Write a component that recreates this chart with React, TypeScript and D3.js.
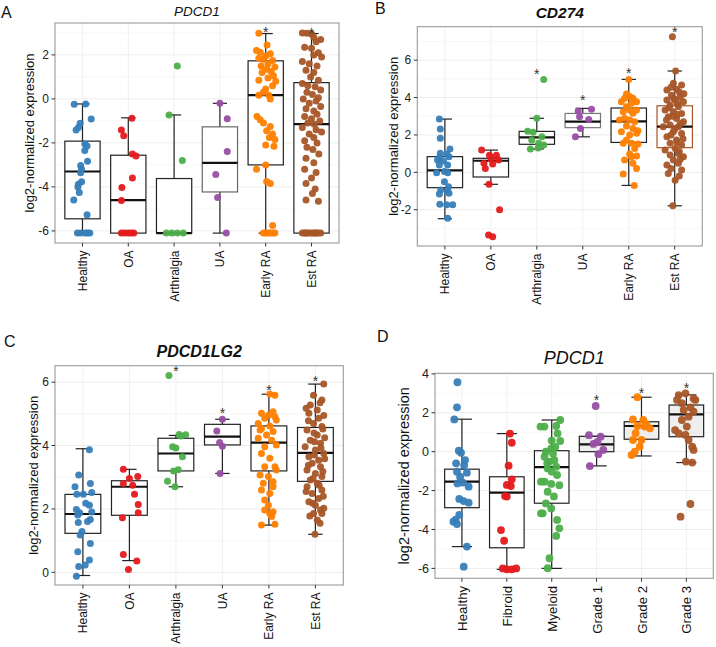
import React from 'react';
import * as d3 from 'd3';

type Pt = [number, number]; // [value, horizontal jitter in category steps]

const COLORS = ['#377EB8', '#E41A1C', '#4DAF4A', '#984EA3', '#FF7F00', '#A65628'];
const CATS_ABC = ['Healthy', 'OA', 'Arthralgia', 'UA', 'Early RA', 'Est RA'];
const CATS_D = ['Healthy', 'Fibroid', 'Myeloid', 'Grade 1', 'Grade 2', 'Grade 3'];
const Y_TITLE = 'log2-normalized expression';

// ---------------- Panel A : PDCD1 ----------------
const A_TICKS = [-6, -4, -2, 0, 2];
const A_Q1 = [-5.45, -6.1, -6.1, -4.23, -3.0, -6.1];
const A_MED = [-3.3, -4.6, -6.1, -2.91, 0.17, -1.15];
const A_Q3 = [-1.92, -2.56, -3.62, -1.27, 1.73, 0.74];
const A_LO = [-6.1, -6.1, -6.1, -6.1, -6.1, -6.1];
const A_HI = [-0.23, -0.86, -0.73, -0.2, 2.97, 2.97];
const A_STAR: (number | null)[] = [null, null, null, null, 3.17, 3.14];
const A_HEALTHY: Pt[] = [[-0.24, -0.18], [-0.23, 0.07], [-0.91, 0.19], [-1.11, -0.05], [-1.3, -0.09], [-1.41, -0.14], [-2.05, 0.05], [-2.14, 0.1], [-2.35, 0.05], [-2.83, 0.11], [-3.03, -0.04], [-3.2, -0.02], [-3.36, -0.04], [-3.77, -0.02], [-3.88, -0.09], [-4.0, -0.1], [-4.26, -0.07], [-4.59, -0.19], [-5.27, 0.1], [-6.1, -0.11], [-6.1, -0.04], [-6.1, 0.06], [-6.1, 0.11], [-6.1, 0.16]];
const A_OA: Pt[] = [[-0.88, 0.08], [-1.41, -0.15], [-1.67, -0.1], [-2.5, 0.09], [-2.6, 0.17], [-3.6, 0.09], [-4.03, -0.14], [-4.62, -0.15], [-6.1, -0.15], [-6.1, -0.08], [-6.1, 0.0], [-6.1, 0.06], [-6.1, 0.12]];
const A_ARTH: Pt[] = [[1.5, 0.07], [-0.73, -0.11], [-2.8, 0.18], [-6.1, -0.17], [-6.1, -0.05], [-6.1, 0.07], [-6.1, 0.2]];
const A_UA: Pt[] = [[-0.2, 0], [-0.9, 0.16], [-2.39, 0.16], [-3.44, -0.09], [-4.48, -0.05], [-6.1, 0.14]];
const A_EARLY: Pt[] = [[2.98, -0.15], [2.45, 0.03], [2.2, -0.2], [2.12, -0.12], [2.05, 0.1], [1.95, 0.0], [1.85, -0.15], [1.8, -0.05], [1.75, 0.15], [1.6, 0.05], [1.5, -0.1], [1.45, 0.2], [1.35, 0.02], [1.25, 0.12], [1.2, -0.08], [1.05, 0.17], [0.95, 0.05], [0.85, -0.15], [0.8, 0.22], [0.6, 0.15], [0.45, 0.0], [0.3, -0.05], [0.17, -0.15], [0.17, 0.07], [0.0, 0.1], [-0.8, -0.19], [-0.95, -0.12], [-1.1, -0.05], [-1.25, 0.1], [-1.45, 0.02], [-1.6, 0.15], [-1.75, 0.08], [-1.85, 0.2], [-2.1, 0.0], [-2.15, 0.18], [-3.0, 0.0], [-3.2, -0.2], [-3.75, 0.02], [-3.85, 0.1], [-5.75, 0.15], [-6.1, -0.05], [-6.1, 0.0], [-6.1, 0.05], [-6.1, 0.1], [-6.1, 0.15], [-6.1, 0.2]];
const A_EST: Pt[] = [[3.0, -0.2], [2.98, -0.1], [2.95, 0.0], [2.8, 0.05], [2.7, 0.2], [2.6, 0.1], [2.35, -0.15], [2.3, 0.0], [2.1, 0.15], [2.0, 0.05], [1.9, 0.22], [1.7, -0.2], [1.6, -0.05], [1.5, 0.12], [1.3, -0.12], [1.2, 0.05], [1.0, -0.02], [0.85, 0.15], [0.7, -0.2], [0.6, -0.08], [0.55, 0.08], [0.4, 0.2], [0.3, -0.1], [0.2, 0.02], [0.05, 0.15], [0.0, -0.18], [-0.1, 0.1], [-0.2, -0.05], [-0.35, 0.2], [-0.45, -0.12], [-0.55, 0.05], [-0.7, 0.12], [-0.8, -0.15], [-0.9, 0.0], [-1.0, 0.18], [-1.1, -0.08], [-1.15, 0.06], [-1.3, -0.2], [-1.4, 0.1], [-1.5, 0.22], [-1.6, -0.05], [-1.75, 0.05], [-1.9, -0.15], [-2.0, 0.12], [-2.2, -0.1], [-2.3, 0.03], [-2.5, 0.16], [-2.7, -0.12], [-2.9, 0.05], [-3.2, -0.15], [-3.35, 0.1], [-3.6, 0.0], [-3.85, -0.12], [-4.1, 0.08], [-4.3, 0.02], [-4.6, -0.12], [-4.65, 0.15], [-6.1, -0.2], [-6.1, -0.15], [-6.1, -0.1], [-6.1, -0.05], [-6.1, 0.0], [-6.1, 0.05], [-6.1, 0.1], [-6.1, 0.15], [-6.1, 0.2], [-6.1, -0.12], [-6.1, 0.08]];

// ---------------- Panel B : CD274 ----------------
const B_TICKS = [-2, 0, 2, 4, 6];
const B_Q1 = [-0.82, -0.25, 1.5, 2.39, 1.6, 1.32];
const B_MED = [0.11, 0.62, 1.87, 2.71, 2.73, 2.44];
const B_Q3 = [0.84, 0.75, 2.19, 3.15, 3.44, 3.56];
const B_LO = [-2.48, -0.64, 1.25, 1.9, -0.7, -1.79];
const B_HI = [2.85, 1.19, 2.89, 3.42, 4.97, 5.42];
const B_STAR: (number | null)[] = [null, null, 5.43, 4.04, 5.47, 7.65];
const B_HEALTHY: Pt[] = [[2.85, -0.12], [2.32, -0.1], [1.82, -0.1], [1.25, 0.11], [1.02, -0.1], [0.98, 0.04], [0.78, -0.12], [0.84, 0.09], [0.61, -0.03], [0.66, -0.16], [0.39, 0.06], [0.39, -0.12], [-0.02, -0.18], [0.04, -0.01], [-0.02, 0.06], [-0.5, -0.01], [-0.77, 0.08], [-0.94, -0.09], [-1.03, 0.06], [-1.16, -0.12], [-1.12, 0.09], [-1.71, -0.11], [-1.73, 0.04], [-1.73, 0.17], [-2.46, 0.06]];
const B_OA: Pt[] = [[1.19, -0.2], [0.91, -0.03], [0.91, 0.12], [0.7, 0.01], [0.66, 0.17], [0.48, -0.15], [0.45, 0.04], [0.21, -0.12], [-0.64, -0.04], [-2.0, 0.19], [-3.35, -0.05], [-3.44, 0.04]];
const B_ARTH: Pt[] = [[4.97, 0.15], [2.89, 0], [2.2, -0.2], [2.15, -0.08], [1.91, 0.11], [1.73, -0.11], [1.55, 0.04], [1.46, 0.15], [1.25, -0.14], [1.3, 0.03]];
const B_UA: Pt[] = [[3.28, -0.1], [3.37, 0.19], [2.98, -0.07], [2.83, 0.13], [2.35, -0.05], [1.91, -0.16]];
const B_EARLY: Pt[] = [[4.97, 0], [4.19, -0.05], [4.05, 0.02], [3.96, -0.09], [3.96, 0.09], [3.78, -0.16], [3.69, 0.06], [3.78, 0.17], [3.51, -0.05], [3.33, 0.02], [3.24, -0.12], [3.16, 0.09], [3.33, 0.17], [2.89, -0.09], [2.8, -0.2], [2.8, 0.02], [2.71, 0.13], [2.48, -0.05], [2.35, 0.09], [2.23, 0.2], [2.17, -0.16], [2.0, 0.02], [2.09, 0.17], [1.73, -0.05], [1.55, 0.06], [1.55, -0.12], [1.52, 0.2], [1.28, 0.13], [0.98, 0.02], [0.84, 0.06], [0.87, 0.17], [0.66, -0.09], [0.48, 0.09], [0.21, 0.17], [-0.09, -0.12], [-0.7, 0.12]];
const B_EST: Pt[] = [[7.25, -0.05], [5.42, 0.02], [4.76, -0.03], [4.67, 0.15], [4.4, -0.17], [4.44, 0.04], [4.13, -0.07], [4.04, 0.12], [3.87, -0.17], [3.87, 0.01], [3.78, 0.19], [3.6, -0.1], [3.51, 0.08], [3.33, -0.21], [3.24, -0.03], [3.15, 0.15], [2.97, -0.14], [2.88, 0.04], [2.7, 0.19], [2.53, -0.1], [2.44, 0.08], [2.44, -0.25], [2.17, -0.03], [2.08, 0.15], [1.9, -0.17], [1.73, 0.04], [1.55, -0.1], [1.46, 0.15], [1.28, 0.01], [1.19, -0.21], [1.01, 0.08], [0.93, -0.1], [0.84, 0.19], [0.66, -0.03], [0.39, -0.17], [0.48, 0.08], [0.12, 0.15], [-0.06, -0.14], [-0.42, 0.01], [-1.79, -0.04], [4.55, -0.08], [4.3, 0.1], [4.2, 0.2], [3.95, -0.02], [3.7, 0.06], [3.45, -0.12], [3.1, 0.05], [3.0, -0.05], [2.8, -0.18], [2.6, 0.12], [2.3, 0.0], [2.0, -0.08], [1.8, 0.18], [1.6, 0.05], [1.1, 0.1], [0.7, 0.12], [0.2, -0.08], [-0.2, 0.1]];

// ---------------- Panel C : PDCD1LG2 ----------------
const C_TICKS = [0, 2, 4, 6];
const C_Q1 = [1.23, 1.8, 3.2, 4.02, 3.2, 2.87];
const C_MED = [1.84, 2.7, 3.75, 4.28, 4.09, 3.77];
const C_Q3 = [2.46, 2.89, 4.23, 4.67, 4.62, 4.57];
const C_LO = [-0.1, 0.37, 2.7, 3.12, 1.49, 1.2];
const C_HI = [3.9, 3.25, 4.32, 4.83, 5.62, 5.94];
const C_STAR: (number | null)[] = [null, null, 6.44, 5.12, 5.85, 6.12];
const C_HEALTHY: Pt[] = [[3.87, 0.14], [3.07, -0.09], [2.7, -0.17], [2.8, 0.16], [2.52, 0.19], [2.46, -0.13], [2.46, 0.01], [2.18, 0.06], [2.12, 0.14], [1.98, -0.14], [1.88, -0.07], [1.81, -0.11], [1.9, 0.19], [1.67, 0.16], [1.6, 0.1], [1.57, -0.1], [1.29, -0.02], [1.18, -0.06], [0.91, 0.16], [0.65, -0.11], [0.39, 0.14], [0.23, 0.05], [0.18, -0.09], [-0.12, -0.14]];
const C_OA: Pt[] = [[3.25, -0.13], [3.02, 0.18], [2.96, 0], [2.8, -0.13], [2.75, 0.07], [2.46, 0.11], [2.14, 0.19], [1.88, 0.19], [1.72, -0.15], [0.56, -0.13], [0.36, 0.16], [0.09, -0.02]];
const C_ARTH: Pt[] = [[6.21, -0.15], [4.35, 0.07], [4.34, 0.21], [4.3, 0.11], [3.96, -0.07], [3.92, 0.0], [3.65, 0.14], [3.24, 0.05], [3.2, -0.05], [2.87, -0.18], [2.7, -0.02]];
const C_UA: Pt[] = [[4.83, 0], [4.46, -0.12], [4.1, -0.06], [3.98, 0.0], [3.12, -0.05]];
const C_EARLY: Pt[] = [[5.63, 0.02], [5.59, 0.13], [5.02, -0.16], [5.07, 0.09], [4.96, -0.01], [4.86, -0.09], [4.7, -0.23], [4.81, 0.16], [4.62, 0.02], [4.54, -0.16], [4.44, 0.09], [4.33, -0.05], [4.23, -0.23], [4.17, 0.06], [4.02, 0.16], [3.96, -0.09], [3.75, -0.16], [3.6, 0.02], [3.33, 0.13], [3.33, -0.09], [3.23, 0.16], [3.07, -0.19], [3.02, -0.01], [2.86, 0.09], [2.81, -0.12], [2.6, -0.16], [2.49, 0.02], [2.7, 0.09], [2.28, -0.09], [2.12, -0.01], [1.97, -0.09], [1.86, 0.02], [1.76, 0.06], [1.49, -0.16], [1.52, 0.13], [1.91, 0.09], [4.49, -0.19], [4.91, 0.13]];
const C_EST: Pt[] = [[5.94, 0.18], [5.59, -0.04], [5.44, 0.14], [5.28, -0.11], [5.12, 0.04], [5.02, -0.14], [4.86, 0.07], [4.7, -0.04], [4.6, 0.14], [4.49, -0.18], [4.33, 0.04], [4.17, -0.11], [4.07, 0.11], [3.96, -0.22], [3.86, 0], [3.75, 0.18], [3.65, -0.14], [3.54, 0.07], [3.44, -0.07], [3.33, 0.11], [3.23, -0.18], [3.12, 0], [3.02, 0.14], [2.91, -0.11], [2.81, 0.04], [2.7, -0.18], [2.6, 0.14], [2.49, -0.07], [2.33, 0.07], [2.23, -0.14], [2.12, 0], [1.97, 0.11], [1.86, -0.04], [1.86, 0.14], [1.65, 0.04], [1.2, -0.01], [5.35, 0.1], [5.18, -0.2], [4.95, 0.18], [4.78, -0.15], [4.52, 0.16], [4.4, -0.03], [4.25, 0.2], [4.12, -0.02], [3.92, 0.12], [3.7, -0.02], [3.58, 0.2], [3.38, -0.15], [3.18, 0.16], [2.96, -0.05], [2.75, 0.08], [2.55, -0.2], [2.4, 0.17], [2.18, -0.06], [2.02, 0.18], [1.78, -0.12], [1.55, 0.1]];

// ---------------- Panel D : PDCD1 (tumour grades) ----------------
const D_TICKS = [-6, -4, -2, 0, 2, 4];
const D_Q1 = [-2.88, -4.94, -2.65, 0, 0.64, 0.77];
const D_MED = [-1.54, -2.11, -0.79, 0.38, 1.32, 1.92];
const D_Q3 = [-0.9, -1.29, 0.05, 0.79, 1.54, 2.4];
const D_LO = [-4.88, -6.05, -6.0, -0.73, -0.22, -0.56];
const D_HI = [1.67, 0.93, 1.63, 0.79, 2.8, 2.92];
const D_STAR: (number | null)[] = [null, null, null, 2.83, 3.17, 3.43];
const D_HEALTHY: Pt[] = [[3.57, -0.1], [2.28, -0.11], [1.66, -0.17], [0.05, -0.07], [-0.05, -0.02], [-0.43, 0.07], [-0.6, -0.13], [-0.7, 0.05], [-1.03, -0.11], [-1.08, 0.11], [-1.29, -0.04], [-1.63, -0.1], [-1.59, 0.02], [-1.8, 0.15], [-2.43, -0.06], [-2.54, 0.04], [-2.62, 0.15], [-3.25, -0.06], [-3.6, -0.19], [-3.72, -0.11], [-3.5, -0.14], [-4.88, 0.11], [-5.91, 0.04]];
const D_FIBROID: Pt[] = [[0.93, 0.07], [0.46, 0.11], [-0.72, 0.04], [-1.42, 0.11], [-1.71, 0], [-1.77, 0.09], [-2.31, 0], [-2.28, -0.04], [-4.03, -0.13], [-4.58, -0.06], [-6.0, -0.09], [-6.05, 0], [-6.05, 0.11], [-6.0, 0.21]];
const D_MYELOID: Pt[] = [[1.63, 0.19], [1.29, -0.16], [1.32, 0.1], [0.94, 0.13], [0.57, 0], [0.55, 0.19], [0.17, -0.01], [-0.26, -0.16], [-0.51, -0.05], [-0.43, 0.06], [-0.77, 0.1], [-0.86, -0.09], [-1.03, 0], [-1.54, -0.16], [-1.66, -0.01], [-1.72, 0.17], [-2.06, -0.09], [-2.66, -0.13], [-2.92, -0.01], [-3.17, -0.2], [-3.51, 0.12], [-3.94, 0.17], [-4.33, 0.1], [-5.48, -0.05], [-5.99, -0.09], [1.29, -0.25], [-1.54, -0.24], [-3.17, -0.24], [0.0, -0.13], [-0.1, 0.03], [-0.6, -0.1], [0.25, 0.08], [-1.2, 0.12], [-2.3, 0.05]];
const D_G1: Pt[] = [[2.35, -0.02], [0.85, -0.17], [0.77, 0.09], [0.4, -0.07], [0.09, 0.15], [-0.13, 0.04], [-0.74, -0.15], [0.5, 0.02]];
const D_G2: Pt[] = [[2.8, -0.09], [1.66, -0.19], [1.63, 0.04], [1.32, -0.09], [1.29, 0.07], [1.2, 0.19], [0.6, -0.19], [0.6, 0], [-0.17, -0.22], [0, -0.15], [0.26, -0.04], [1.42, 0.11], [0.95, -0.13]];
const D_G3: Pt[] = [[2.91, -0.17], [3.0, -0.02], [2.74, 0.16], [2.66, -0.21], [2.49, -0.1], [2.28, 0.09], [2.06, 0.16], [1.8, 0.05], [1.63, -0.1], [0.94, -0.17], [0.86, -0.02], [0.6, 0.05], [0.26, 0.13], [0.09, 0.16], [-0.51, -0.01], [-0.56, 0.13], [-2.69, 0.09], [-3.34, -0.13], [2.66, 0.2], [2.14, -0.06], [1.11, -0.25], [1.29, 0.01]];

interface PanelCfg {
  letter: string; letterX: number; letterY: number;
  title: string; titleSize: number; titleWeight: number; titleY: number;
  left: number; top: number; right: number; bottom: number;
  yDomain: [number, number]; ticks: number[];
  cats: string[]; groups: Pt[][];
  q1: number[]; med: number[]; q3: number[]; lo: number[]; hi: number[];
  star: (number | null)[];
  boxStroke: string[]; boxFill: string[];
  yTitleX: number; yTitleSize: number; tickSize: number; catSize: number;
  r: number; capW: number;
}

const FONT = '"Liberation Sans", Arial, Helvetica, sans-serif';

const PANELS: PanelCfg[] = [
  {
    letter: 'A', letterX: 1, letterY: 18, title: 'PDCD1', titleSize: 13.5, titleWeight: 400, titleY: 15.5,
    left: 55, top: 23, right: 339, bottom: 243, yDomain: [-6.55, 3.45], ticks: A_TICKS,
    cats: CATS_ABC, groups: [A_HEALTHY, A_OA, A_ARTH, A_UA, A_EARLY, A_EST],
    q1: A_Q1, med: A_MED, q3: A_Q3, lo: A_LO, hi: A_HI, star: A_STAR,
    boxStroke: ['#222', '#222', '#222', '#666', '#222', '#222'],
    boxFill: ['#fff', '#fff', '#fff', '#fff', '#fff', '#fff'],
    yTitleX: 33.5, yTitleSize: 13, tickSize: 12, catSize: 12, r: 3.5, capW: 0.31,
  },
  {
    letter: 'B', letterX: 375, letterY: 14, title: 'CD274', titleSize: 15.5, titleWeight: 700, titleY: 18,
    left: 417.3, top: 26.7, right: 702.3, bottom: 246, yDomain: [-3.94, 7.79], ticks: B_TICKS,
    cats: CATS_ABC, groups: [B_HEALTHY, B_OA, B_ARTH, B_UA, B_EARLY, B_EST],
    q1: B_Q1, med: B_MED, q3: B_Q3, lo: B_LO, hi: B_HI, star: B_STAR,
    boxStroke: ['#222', '#222', '#222', '#777', '#222', '#A65628'],
    boxFill: ['#fff', '#fff', '#fff', '#fff', '#fff', '#fff'],
    yTitleX: 397.8, yTitleSize: 13, tickSize: 12, catSize: 12, r: 3.5, capW: 0.31,
  },
  {
    letter: 'C', letterX: 4, letterY: 347, title: 'PDCD1LG2', titleSize: 16, titleWeight: 700, titleY: 357,
    left: 55, top: 365.7, right: 343.3, bottom: 585, yDomain: [-0.4, 6.52], ticks: C_TICKS,
    cats: CATS_ABC, groups: [C_HEALTHY, C_OA, C_ARTH, C_UA, C_EARLY, C_EST],
    q1: C_Q1, med: C_MED, q3: C_Q3, lo: C_LO, hi: C_HI, star: C_STAR,
    boxStroke: ['#222', '#222', '#222', '#222', '#222', '#222'],
    boxFill: ['#fff', '#fff', '#fff', '#fff', '#fff', '#fff'],
    yTitleX: 37.8, yTitleSize: 13, tickSize: 12, catSize: 12, r: 3.5, capW: 0.31,
  },
  {
    letter: 'D', letterX: 377, letterY: 342, title: 'PDCD1', titleSize: 18, titleWeight: 400, titleY: 363.5,
    left: 435, top: 373.3, right: 713.3, bottom: 578.3, yDomain: [-6.51, 4.03], ticks: D_TICKS,
    cats: CATS_D, groups: [D_HEALTHY, D_FIBROID, D_MYELOID, D_G1, D_G2, D_G3],
    q1: D_Q1, med: D_MED, q3: D_Q3, lo: D_LO, hi: D_HI, star: D_STAR,
    boxStroke: ['#222', '#222', '#222', '#222', '#222', '#222'],
    boxFill: ['#fff', '#fff', '#fff', '#eeeeee', '#eeeeee', '#eeeeee'],
    yTitleX: 408.5, yTitleSize: 14.5, tickSize: 12.5, catSize: 13.3, r: 3.9, capW: 0.45,
  },
];

function Panel({ cfg }: { cfg: PanelCfg }) {
  const x = d3.scalePoint<string>().domain(cfg.cats).range([cfg.left, cfg.right]).padding(0.6);
  const y = d3.scaleLinear().domain(cfg.yDomain).range([cfg.bottom, cfg.top]);
  const step = x.step();
  const bw = step * 0.77;
  const minor = cfg.ticks.slice(0, -1).map((t, i) => (t + cfg.ticks[i + 1]) / 2)
    .concat([cfg.ticks[cfg.ticks.length - 1] + 1]).filter((v) => v > cfg.yDomain[0] && v < cfg.yDomain[1]);
  const lo = Math.min(...cfg.ticks) - 1;
  if (lo > cfg.yDomain[0]) minor.push(lo);
  const cx = (cfg.left + cfg.right) / 2;
  const cy = (cfg.top + cfg.bottom) / 2;
  return (
    <g>
      <text x={cfg.letterX} y={cfg.letterY} fontSize={16} fontFamily={FONT} fill="#111">{cfg.letter}</text>
      <text x={cx} y={cfg.titleY} textAnchor="middle" fontSize={cfg.titleSize} fontStyle="italic"
        fontWeight={cfg.titleWeight} fontFamily={FONT} fill="#111">{cfg.title}</text>
      <rect x={cfg.left} y={cfg.top} width={cfg.right - cfg.left} height={cfg.bottom - cfg.top} fill="#fff" />
      {minor.map((v) => (
        <line key={'m' + v} x1={cfg.left} x2={cfg.right} y1={y(v)} y2={y(v)} stroke="#f4f4f4" strokeWidth={0.7} />
      ))}
      {cfg.ticks.map((v) => (
        <line key={'g' + v} x1={cfg.left} x2={cfg.right} y1={y(v)} y2={y(v)} stroke="#ececec" strokeWidth={1} />
      ))}
      {cfg.cats.map((c) => (
        <line key={'v' + c} x1={x(c)} x2={x(c)} y1={cfg.top} y2={cfg.bottom} stroke="#f0f0f0" strokeWidth={1} />
      ))}
      {cfg.cats.map((c, i) => {
        const xc = x(c) as number;
        const s = cfg.boxStroke[i];
        return (
          <g key={'b' + c}>
            <line x1={xc} x2={xc} y1={y(cfg.q3[i])} y2={y(cfg.hi[i])} stroke="#222" strokeWidth={1.2} />
            <line x1={xc} x2={xc} y1={y(cfg.q1[i])} y2={y(cfg.lo[i])} stroke="#222" strokeWidth={1.2} />
            <line x1={xc - step * cfg.capW / 2} x2={xc + step * cfg.capW / 2} y1={y(cfg.hi[i])} y2={y(cfg.hi[i])} stroke="#222" strokeWidth={1.2} />
            <line x1={xc - step * cfg.capW / 2} x2={xc + step * cfg.capW / 2} y1={y(cfg.lo[i])} y2={y(cfg.lo[i])} stroke="#222" strokeWidth={1.2} />
            <rect x={xc - bw / 2} y={y(cfg.q3[i])} width={bw} height={Math.max(0.5, y(cfg.q1[i]) - y(cfg.q3[i]))}
              fill={cfg.boxFill[i]} stroke={s} strokeWidth={1.2} />
            <line x1={xc - bw / 2} x2={xc + bw / 2} y1={y(cfg.med[i])} y2={y(cfg.med[i])} stroke="#111" strokeWidth={2.2} />
          </g>
        );
      })}
      {cfg.cats.map((c, i) => {
        const xc = x(c) as number;
        return (
          <g key={'p' + c}>
            {cfg.groups[i].map((p, j) => (
              <circle key={j} cx={xc + p[1] * step} cy={y(p[0])} r={cfg.r} fill={COLORS[i]} fillOpacity={0.95} />
            ))}
          </g>
        );
      })}
      {cfg.cats.map((c, i) => cfg.star[i] === null ? null : (
        <text key={'s' + c} x={x(c)} y={y(cfg.star[i] as number) + 8} textAnchor="middle" fontSize={14}
          fontFamily={FONT} fill="#333">*</text>
      ))}
      <rect x={cfg.left} y={cfg.top} width={cfg.right - cfg.left} height={cfg.bottom - cfg.top} fill="none" stroke="#9a9a9a" strokeWidth={1.1} />
      {cfg.ticks.map((v) => (
        <g key={'t' + v}>
          <line x1={cfg.left - 3.5} x2={cfg.left} y1={y(v)} y2={y(v)} stroke="#333" strokeWidth={1} />
          <text x={cfg.left - 6} y={y(v)} dy="0.36em" textAnchor="end" fontSize={cfg.tickSize} fontFamily={FONT} fill="#222">{v}</text>
        </g>
      ))}
      {cfg.cats.map((c) => {
        const xc = x(c) as number;
        return (
          <g key={'x' + c}>
            <line x1={xc} x2={xc} y1={cfg.bottom} y2={cfg.bottom + 3.5} stroke="#333" strokeWidth={1} />
            <text transform={`translate(${xc + cfg.catSize * 0.38},${cfg.bottom + 7.5}) rotate(-90)`} textAnchor="end"
              fontSize={cfg.catSize} fontFamily={FONT} fill="#111">{c}</text>
          </g>
        );
      })}
      <text transform={`translate(${cfg.yTitleX},${cy}) rotate(-90)`} textAnchor="middle" fontSize={cfg.yTitleSize}
        fontFamily={FONT} fill="#111">{Y_TITLE}</text>
    </g>
  );
}

export default function App() {
  return (
    <svg width={716} height={647} style={{ position: 'absolute', left: 0, top: 0, background: '#fff' }}>
      <rect width={716} height={647} fill="#fff" />
      {PANELS.map((p) => <Panel key={p.letter} cfg={p} />)}
    </svg>
  );
}
